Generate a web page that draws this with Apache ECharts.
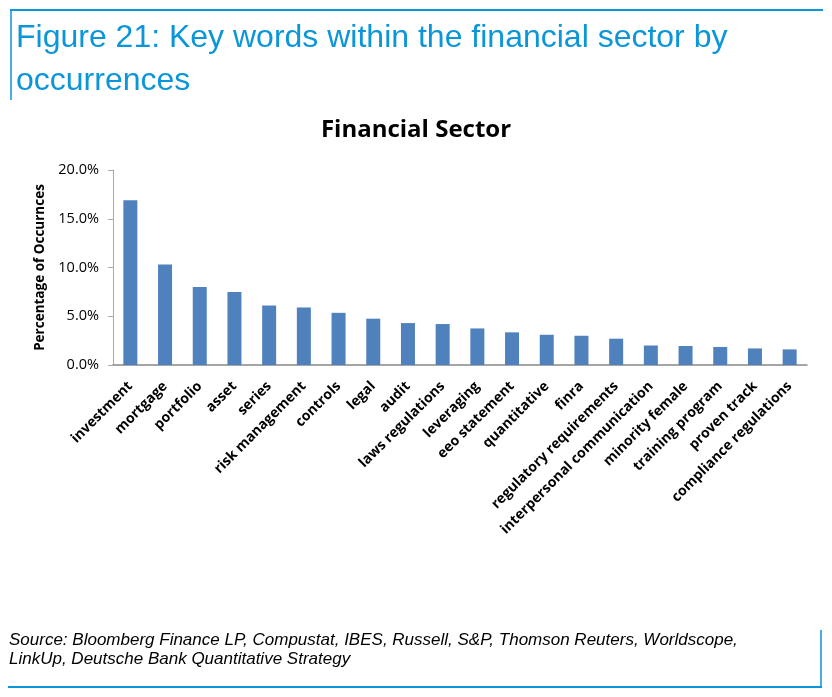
<!DOCTYPE html>
<html>
<head>
<meta charset="utf-8">
<script src="https://cdn.jsdelivr.net/npm/echarts@6/dist/echarts.min.js"></script>
<style>
html,body{margin:0;padding:0;background:#fff;}
#chart{width:832px;height:697px;}
</style>
</head>
<body>
<div id="chart"></div>
<script>
const categories = ["investment","mortgage","portfolio","asset","series","risk management","controls","legal","audit","laws regulations","leveraging","eeo statement","quantitative","finra","regulatory requirements","interpersonal communication","minority female","training program","proven track","compliance regulations"];
const values = [16.9,10.3,8.0,7.5,6.1,5.9,5.35,4.75,4.3,4.2,3.75,3.35,3.1,3.0,2.7,2.0,1.95,1.85,1.7,1.6];
const yTicks = [0,5,10,15,20];

const blue = '#0a96d8';
const chart = echarts.init(document.getElementById('chart'));
chart.setOption({
  animation:false,
  title:[
    {text:'Figure 21: Key words within the financial sector by\noccurrences', left:16, top:17, padding:0,
     textStyle:{color:blue,fontFamily:'"Liberation Sans",Arial,sans-serif',fontWeight:'normal',fontSize:32,lineHeight:43}},
    {text:'Financial Sector', left:'center', top:118, padding:0,
     textStyle:{color:'#000',fontFamily:'"Open Sans",sans-serif',fontWeight:'bold',fontSize:24}},
    {text:'Source: Bloomberg Finance LP, Compustat, IBES, Russell, S&P, Thomson Reuters, Worldscope,\nLinkUp, Deutsche Bank Quantitative Strategy', left:9, top:631, padding:0,
     textStyle:{color:'#000',fontFamily:'"Liberation Sans",Arial,sans-serif',fontStyle:'italic',fontWeight:'normal',fontSize:17,lineHeight:19}}
  ],
  graphic:[
    {type:'line',shape:{x1:10,y1:10,x2:823,y2:10},style:{stroke:blue,lineWidth:2}},
    {type:'line',shape:{x1:11,y1:10,x2:11,y2:100},style:{stroke:blue,lineWidth:1.5}},
    {type:'line',shape:{x1:821,y1:630,x2:821,y2:687},style:{stroke:blue,lineWidth:1.5}},
    {type:'line',shape:{x1:8,y1:687,x2:822,y2:687},style:{stroke:blue,lineWidth:2}}
  ],
  grid:{left:113,right:25,top:170,bottom:332},
  xAxis:{type:'category',data:categories,
    axisLine:{lineStyle:{color:'#888',width:1.5}},axisTick:{show:false},
    axisLabel:{rotate:45,interval:0,color:'#000',fontFamily:'"Open Sans",sans-serif',fontWeight:'bold',fontSize:14,margin:19}},
  yAxis:{type:'value',min:0,max:20,interval:5,
    name:'Percentage of Occurnces',nameLocation:'middle',nameGap:63,nameRotate:90,
    nameTextStyle:{color:'#000',fontFamily:'"Open Sans",sans-serif',fontWeight:'bold',fontSize:13.5},
    axisLine:{show:true,lineStyle:{color:'#aaa'}},axisTick:{show:true,length:5,lineStyle:{color:'#aaa'}},
    splitLine:{show:false},
    axisLabel:{color:'#000',fontFamily:'"Open Sans",sans-serif',fontSize:14.5,margin:14,
      formatter:v=>v.toFixed(1)+'%'}},
  series:[{type:'bar',data:values,barWidth:14,itemStyle:{color:'#4f81bd'}}]
});
</script>
</body>
</html>
